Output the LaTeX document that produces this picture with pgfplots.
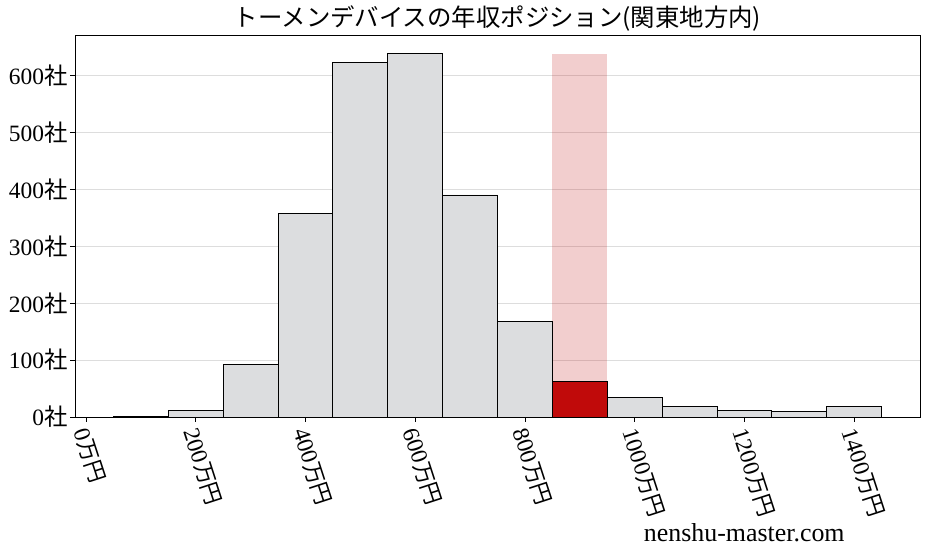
\documentclass[border=0pt]{standalone}
\usepackage{pgfplots}
\pgfplotsset{compat=1.18}
\usepackage{fontspec}
\setmainfont{Liberation Serif}
\newfontfamily\cjk{Noto Sans CJK JP}
\definecolor{bargray}{HTML}{DCDDDF}
\definecolor{barred}{HTML}{C00A0A}
\definecolor{gridgray}{HTML}{DDDDDD}
\newcommand{\man}{{\cjk\fontsize{22}{24}\selectfont 万円}}
\begin{document}
\begin{tikzpicture}[x=1bp,y=1bp]
\path (0,0) rectangle (927,557);
\begin{axis}[
  at={(75bp,140bp)}, anchor=south west,
  width=845bp, height=382bp, scale only axis,
  xmin=-20, xmax=1520, ymin=0, ymax=671,
  axis line style={black, line width=0.8bp},
  tick align=outside, major tick length=5bp,
  tick style={black, line width=0.8bp},
  xtick pos=bottom, ytick pos=left,
  xtick={0,200,...,1400},
  xticklabels={0\man,200\man,400\man,600\man,800\man,1000\man,1200\man,1400\man},
  ytick={0,100,...,600},
  yticklabels={0{\cjk 社},100{\cjk 社},200{\cjk 社},300{\cjk 社},400{\cjk 社},500{\cjk 社},600{\cjk 社}},
  ymajorgrids, grid style={gridgray, line width=0.8bp},
  tick label style={font=\fontsize{23.5}{26}\selectfont},
  yticklabel style={xshift=1bp},
  xticklabel style={xshift=6bp, rotate=-72, anchor=north west},
  title={\cjk トーメンデバイスの年収ポジション(関東地方内)},
  title style={font=\fontsize{24.5}{28}\selectfont, yshift=-6bp},
  clip=false,
]
\addplot[ybar, bar width=100, bar shift=0pt, draw=none, fill=barred, fill opacity=0.2]
  coordinates {(900,638)};
\addplot[ybar, bar width=100, bar shift=0pt, draw=black, line width=0.8bp, fill=bargray]
  coordinates {
    (100,1) (200,11) (300,92) (400,358) (500,622) (600,638) (700,390)
    (800,168) (1000,34) (1100,18) (1200,11) (1300,9) (1400,18)
  };
\addplot[ybar, bar width=100, bar shift=0pt, draw=black, line width=0.8bp, fill=barred]
  coordinates {(900,63)};
\node[font=\fontsize{26}{28}\selectfont] at (rel axis cs:0.792,-0.304) {nenshu-master.com};
\end{axis}
\end{tikzpicture}
\end{document}
